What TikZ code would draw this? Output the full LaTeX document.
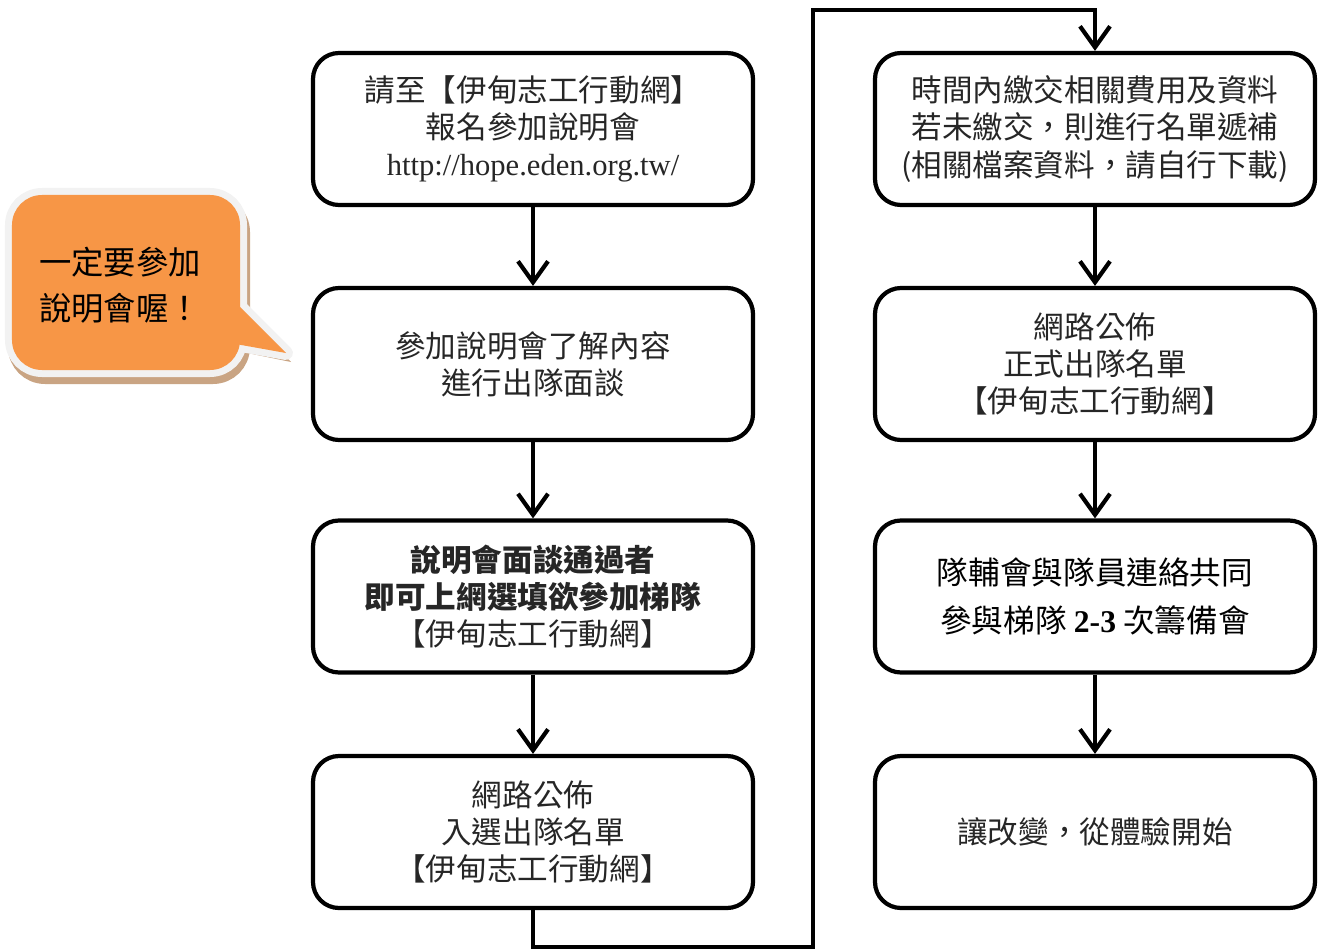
\documentclass[tikz,border=0pt]{standalone}
\usepackage{fontspec}
\setmainfont{Liberation Serif}
\newfontfamily\cjk{Noto Sans CJK TC}
\usetikzlibrary{arrows.meta}

\definecolor{noteorange}{HTML}{F79646}
\definecolor{noterim}{HTML}{F2F2F2}
\definecolor{noteshade}{HTML}{C9A483}

\tikzset{
    stepbox/.style={draw, line width=1.2pt, rounded corners=0.26cm, minimum width=4.4cm, minimum height=1.52cm, align=center, inner sep=0pt, text=black!85, font=\cjk\fontsize{8.7pt}{10.6pt}\selectfont},
    flow/.style={line width=1.2pt, -{Straight Barb[length=2.1mm,width=3mm]}},
}

\begin{document}
\begin{tikzpicture}
        \useasboundingbox (0,0) rectangle (13.22,-9.50);

        % note bubble
        \begin{scope}[shift={(0.03,-0.07)}]
            \filldraw[noteshade,line width=0.14cm,rounded corners=0.3cm] (0.12,-1.95) rectangle (2.40,-3.70);
            \fill[noteshade] (2.30,-2.97) -- (2.88,-3.55) -- (2.30,-3.43) -- cycle;
        \end{scope}
        \draw[noterim,line width=0.14cm,rounded corners=0.3cm] (0.12,-1.95) rectangle (2.40,-3.70);
        \draw[noterim,line width=0.14cm,line join=round] (2.30,-2.97) -- (2.86,-3.53) -- (2.30,-3.43) -- cycle;
        \fill[noteorange,rounded corners=0.3cm] (0.12,-1.95) rectangle (2.40,-3.70);
        \fill[noteorange] (2.30,-2.97) -- (2.86,-3.53) -- (2.30,-3.43) -- cycle;
        \node[align=left,font=\cjk\fontsize{9.2pt}{13pt}\selectfont] (note) at (1.20,-2.85) {一定要參加\\說明會喔！};

        % left column
        \node[stepbox] (l1) at (5.33,-1.29) {請至【伊甸志工行動網】\\報名參加說明會\\{\rmfamily http://hope.eden.org.tw/}};
        \node[stepbox] (l2) at (5.33,-3.64) {參加說明會了解內容\\進行出隊面談};
        \node[stepbox] (l3) at (5.33,-5.965) {\textbf{說明會面談通過者}\\\textbf{即可上網選填欲參加梯隊}\\【伊甸志工行動網】};
        \node[stepbox] (l4) at (5.33,-8.32) {網路公佈\\入選出隊名單\\【伊甸志工行動網】};

        % right column
        \node[stepbox] (r1) at (10.95,-1.29) {時間內繳交相關費用及資料\\若未繳交，則進行名單遞補\\(相關檔案資料，請自行下載)};
        \node[stepbox] (r2) at (10.95,-3.64) {網路公佈\\正式出隊名單\\【伊甸志工行動網】};
        \node[stepbox,text=black,font=\cjk\fontsize{9pt}{13.7pt}\selectfont] (r3) at (10.95,-5.965) {隊輔會與隊員連絡共同\\參與梯隊 {\rmfamily\bfseries 2-3} 次籌備會};
        \node[stepbox] (r4) at (10.95,-8.32) {讓改變，從體驗開始};

        \foreach \a/\b in {l1/l2,l2/l3,l3/l4,r1/r2,r2/r3,r3/r4}{
            \draw[flow] (\a.south) -- (\b.north);
        }

        \coordinate (turnlow) at (8.13,-9.47);
        \coordinate (turnhigh) at (8.13,-0.10);
        \draw[flow] (l4.south) |- (turnlow) -- (turnhigh) -| (r1.north);

    \end{tikzpicture}
\end{document}
